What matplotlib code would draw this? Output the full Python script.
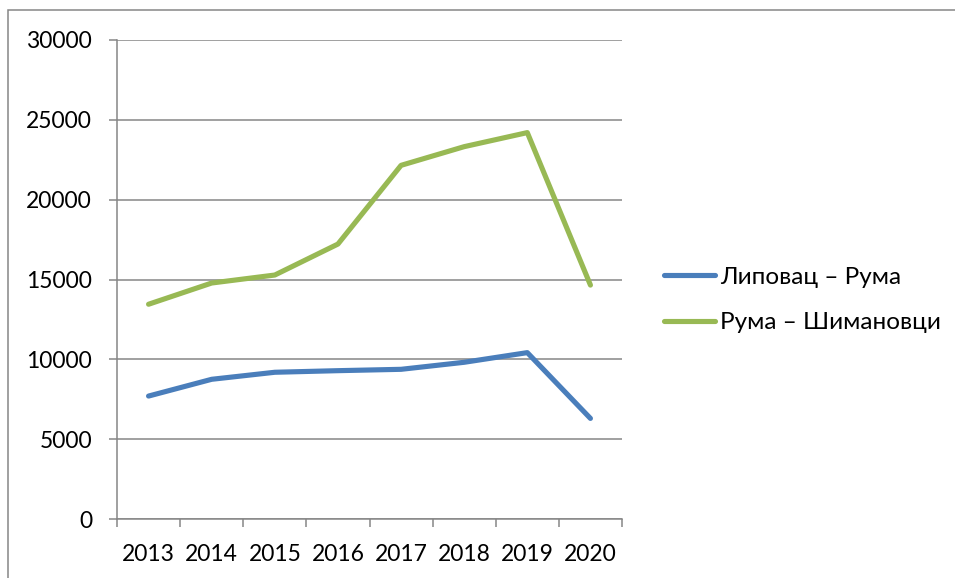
import matplotlib.pyplot as plt
from matplotlib.patches import Rectangle
import numpy as np

years = ['2013', '2014', '2015', '2016', '2017', '2018', '2019', '2020']
lipovac_ruma = [7700, 8750, 9190, 9290, 9375, 9815, 10420, 6300]
ruma_simanovci = [13450, 14780, 15280, 17220, 22150, 23320, 24200, 14650]
series_names = ['Липовац – Рума', 'Рума – Шимановци']

plt.rcParams['font.family'] = ['Lato', 'DejaVu Sans']

W, H = 955, 578
fig = plt.figure(figsize=(W / 100, H / 100), dpi=100)
ax = fig.add_axes([117 / W, 1 - 519 / H, (622 - 117) / W, (519 - 40) / H])

grey = '#868686'
x = np.arange(len(years))
ax.plot(x, lipovac_ruma, color='#4A7EBB', lw=3.7, solid_capstyle='round',
        solid_joinstyle='round', label=series_names[0], zorder=3)
ax.plot(x, ruma_simanovci, color='#98B954', lw=3.7, solid_capstyle='round',
        solid_joinstyle='round', label=series_names[1], zorder=3)

ax.set_xlim(-0.5, len(years) - 0.5)
ax.set_ylim(0, 30000)
ax.set_yticks(np.arange(0, 30001, 5000))
ax.set_yticklabels([str(v) for v in range(0, 30001, 5000)])
ax.set_xticks(x)
ax.set_xticklabels(years)
ax.set_xticks(np.arange(-0.5, len(years)), minor=True)
ax.tick_params(axis='x', which='major', length=0, pad=18, labelsize=16.5)
ax.tick_params(axis='x', which='minor', length=6, width=1.1, color=grey)
ax.tick_params(axis='y', length=6, width=1.1, color=grey, pad=12, labelsize=16.5)

ax.grid(axis='y', color=grey, lw=1.1)
ax.set_axisbelow(True)
for s in ['top', 'right']:
    ax.spines[s].set_visible(False)
for s in ['left', 'bottom']:
    ax.spines[s].set_color(grey)
    ax.spines[s].set_linewidth(1.1)

ax.legend(loc='center left', bbox_to_anchor=(642 / W, 1 - 300 / H),
          bbox_transform=fig.transFigure, frameon=False, fontsize=17.5,
          handlelength=2.1, handletextpad=0.2, labelspacing=1.0)

fig.patches.append(Rectangle((8 / W, -0.1), 1.2, 1.1 - 10 / H, transform=fig.transFigure,
                             fill=False, edgecolor=grey, lw=1.1))

fig.savefig('out.png', dpi=100)
